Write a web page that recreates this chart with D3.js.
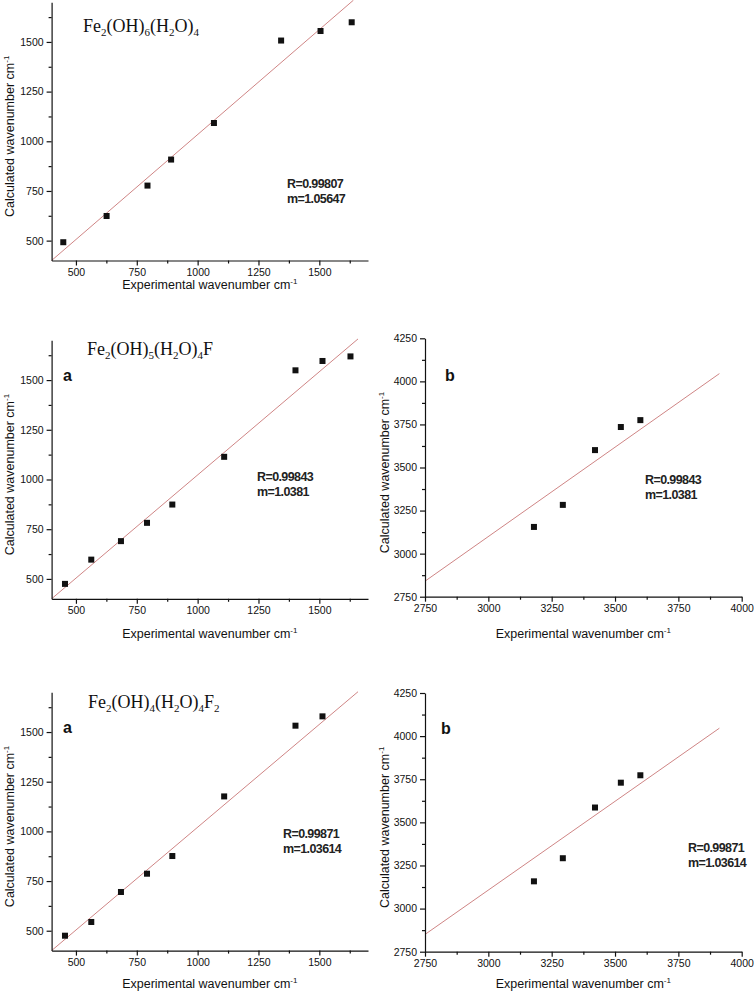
<!DOCTYPE html>
<html>
<head>
<meta charset="utf-8">
<script src="https://cdn.jsdelivr.net/npm/d3@7"></script>
<style>
  body { margin: 0; background: #fff; }
  svg { display: block; }
  .axis path, .axis line { stroke: #111; stroke-width: 1.2; }
  .axis text { font-family: "Liberation Sans", Arial, sans-serif; font-size: 10.5px; fill: #111; }
</style>
</head>
<body>
<script>

// Fe2(OH)6(H2O)4
const expA1 = [448, 626, 794, 891, 1067, 1343, 1505, 1633];
const calcA1 = [492, 624, 777, 908, 1092, 1507, 1555, 1599];
const fitA1 = [[400, 400], [1640, 1710]];

// Fe2(OH)5(H2O)4F, panels a and b
const expA2 = [455, 563, 685, 792, 896, 1109, 1402, 1513, 1628];
const calcA2 = [475, 597, 690, 782, 874, 1114, 1549, 1596, 1619];
const fitA2 = [[400, 400], [1659, 1707]];
const expB2 = [3180, 3294, 3421, 3523, 3600];
const calcB2 = [3155, 3283, 3601, 3735, 3775];
const fitB2 = [[2750, 2840], [3912, 4045]];

// Fe2(OH)4(H2O)4F2, panels a and b
const expA3 = [455, 563, 685, 792, 896, 1109, 1402, 1513];
const calcA3 = [475, 544, 695, 787, 876, 1176, 1532, 1579];
const fitA3 = [[400, 400], [1659, 1703]];
const expB3 = [3180, 3294, 3421, 3523, 3600];
const calcB3 = [3158, 3292, 3586, 3730, 3773];
const fitB3 = [[2750, 2850], [3912, 4046]];

// Fit statistics
const rValues = ["0.99807", "0.99843", "0.99843", "0.99871", "0.99871"];
const mValues = ["1.05647", "1.0381", "1.0381", "1.03614", "1.03614"];

// Axis domains and ticks
const lowDomain = [400, 1700];
const lowTicks = [500, 750, 1000, 1250, 1500];
const lowMinor = [625, 875, 1125, 1375, 1625];
const highDomainX = [2750, 4000];
const highDomainY = [2750, 4250];
const highTicksX = [2750, 3000, 3250, 3500, 3750, 4000];
const highTicksY = [2750, 3000, 3250, 3500, 3750, 4000, 4250];
const highMinor = [2875, 3125, 3375, 3625, 3875, 4125];

const width = 754;
const height = 992;

const svg = d3.select("body").append("svg")
    .attr("width", width)
    .attr("height", height)
    .attr("viewBox", [0, 0, width, height]);

// Panel layout: pixel ranges for each plot, plus where the labels go
const panels = [
    {exp: expA1, calc: calcA1, fit: fitA1, dx: lowDomain, dy: lowDomain, tx: lowTicks, ty: lowTicks, mx: lowMinor, my: lowMinor,
     rx: [51.6, 368], ry: [260.5, 2.2], xTitleY: 289, yTitleX: 14,
     formula: [["Fe", 0], ["2", 1], ["(OH)", 0], ["6", 1], ["(H", 0], ["2", 1], ["O)", 0], ["4", 1]], fx: 83, fy: 32,
     letter: null, stat: [287, 188]},
    {exp: expA2, calc: calcA2, fit: fitA2, dx: lowDomain, dy: lowDomain, tx: lowTicks, ty: lowTicks, mx: lowMinor, my: lowMinor,
     rx: [51.6, 368], ry: [598.8, 340.3], xTitleY: 638, yTitleX: 14,
     formula: [["Fe", 0], ["2", 1], ["(OH)", 0], ["5", 1], ["(H", 0], ["2", 1], ["O)", 0], ["4", 1], ["F", 0]], fx: 87, fy: 355,
     letter: ["a", 63, 381], stat: [257, 481]},
    {exp: expB2, calc: calcB2, fit: fitB2, dx: highDomainX, dy: highDomainY, tx: highTicksX, ty: highTicksY, mx: highMinor, my: highMinor,
     rx: [425, 741.7], ry: [596.7, 338.3], xTitleY: 638, yTitleX: 389,
     formula: null, letter: ["b", 445, 381], stat: [645, 484]},
    {exp: expA3, calc: calcA3, fit: fitA3, dx: lowDomain, dy: lowDomain, tx: lowTicks, ty: lowTicks, mx: lowMinor, my: lowMinor,
     rx: [51.6, 368], ry: [950.6, 692.3], xTitleY: 988, yTitleX: 14,
     formula: [["Fe", 0], ["2", 1], ["(OH)", 0], ["4", 1], ["(H", 0], ["2", 1], ["O)", 0], ["4", 1], ["F", 0], ["2", 1]], fx: 88, fy: 708,
     letter: ["a", 63, 733], stat: [283, 838]},
    {exp: expB3, calc: calcB3, fit: fitB3, dx: highDomainX, dy: highDomainY, tx: highTicksX, ty: highTicksY, mx: highMinor, my: highMinor,
     rx: [425, 741.7], ry: [951.7, 693], xTitleY: 988, yTitleX: 389,
     formula: null, letter: ["b", 441, 734], stat: [688, 852]}
];

function addTitle(sel, label) {
    // Axis title with a superscript -1
    sel.append("tspan").text(label);
    sel.append("tspan").attr("dy", -5).attr("font-size", 8).text("-1");
}

const plain = d3.format("d");

panels.forEach((p, i) => {

    const g = svg.append("g");

    // Scales
    const x = d3.scaleLinear().domain(p.dx).range(p.rx);
    const y = d3.scaleLinear().domain(p.dy).range(p.ry);

    // Fit line
    const line = d3.line().x(d => x(d[0])).y(d => y(d[1]));
    g.append("path")
        .attr("d", line(p.fit))
        .attr("fill", "none")
        .attr("stroke", "#cf8585")
        .attr("stroke-width", 1);

    // Minor ticks
    g.append("g").attr("class", "axis")
        .attr("transform", `translate(0, ${p.ry[0]})`)
        .call(d3.axisBottom(x).tickValues(p.mx).tickSize(3).tickFormat(""))
        .call(a => a.select(".domain").remove());
    g.append("g").attr("class", "axis")
        .attr("transform", `translate(${p.rx[0]}, 0)`)
        .call(d3.axisLeft(y).tickValues(p.my).tickSize(3).tickFormat(""))
        .call(a => a.select(".domain").remove());

    // Major axes
    g.append("g").attr("class", "axis")
        .attr("transform", `translate(0, ${p.ry[0]})`)
        .call(d3.axisBottom(x).tickValues(p.tx).tickFormat(plain).tickSize(5).tickSizeOuter(0).tickPadding(3));
    g.append("g").attr("class", "axis")
        .attr("transform", `translate(${p.rx[0]}, 0)`)
        .call(d3.axisLeft(y).tickValues(p.ty).tickFormat(plain).tickSize(5).tickSizeOuter(0).tickPadding(3));

    // Data points
    g.append("g")
        .selectAll("rect")
        .data(d3.zip(p.exp, p.calc))
        .join("rect")
        .attr("x", d => x(d[0]) - 3)
        .attr("y", d => y(d[1]) - 3)
        .attr("width", 6)
        .attr("height", 6)
        .attr("fill", "#111");

    // Axis titles
    const titleFont = "'Liberation Sans', Arial, sans-serif";
    g.append("text")
        .attr("x", (p.rx[0] + p.rx[1]) / 2)
        .attr("y", p.xTitleY)
        .attr("text-anchor", "middle")
        .attr("font-family", titleFont)
        .attr("font-size", 12.5)
        .attr("fill", "#111")
        .call(addTitle, "Experimental wavenumber cm");
    g.append("text")
        .attr("transform", `translate(${p.yTitleX}, ${(p.ry[0] + p.ry[1]) / 2 + 5}) rotate(-90)`)
        .attr("text-anchor", "middle")
        .attr("font-family", titleFont)
        .attr("font-size", 12.5)
        .attr("fill", "#111")
        .call(addTitle, "Calculated wavenumber cm");

    // Formula with subscripts
    if (p.formula) {
        const f = g.append("text")
            .attr("x", p.fx)
            .attr("y", p.fy)
            .attr("font-family", "'Liberation Serif', 'Times New Roman', serif")
            .attr("font-size", 18)
            .attr("fill", "#111");
        let low = false;
        p.formula.forEach(([s, sub]) => {
            const dy = sub && !low ? 4 : (!sub && low ? -4 : 0);
            low = !!sub;
            f.append("tspan").attr("dy", dy).attr("font-size", sub ? 11 : 18).text(s);
        });
    }

    // Panel letter
    if (p.letter) {
        g.append("text")
            .attr("x", p.letter[1])
            .attr("y", p.letter[2])
            .attr("font-family", titleFont)
            .attr("font-weight", "bold")
            .attr("font-size", 16)
            .attr("fill", "#111")
            .text(p.letter[0]);
    }

    // Fit statistics
    const stat = g.append("text")
        .attr("font-family", titleFont)
        .attr("font-weight", "bold")
        .attr("font-size", 12.5)
        .attr("letter-spacing", -0.6)
        .attr("fill", "#222");
    stat.append("tspan").attr("x", p.stat[0]).attr("y", p.stat[1]).text(`R=${rValues[i]}`);
    stat.append("tspan").attr("x", p.stat[0]).attr("y", p.stat[1] + 15).text(`m=${mValues[i]}`);

});

</script>
</body>
</html>
